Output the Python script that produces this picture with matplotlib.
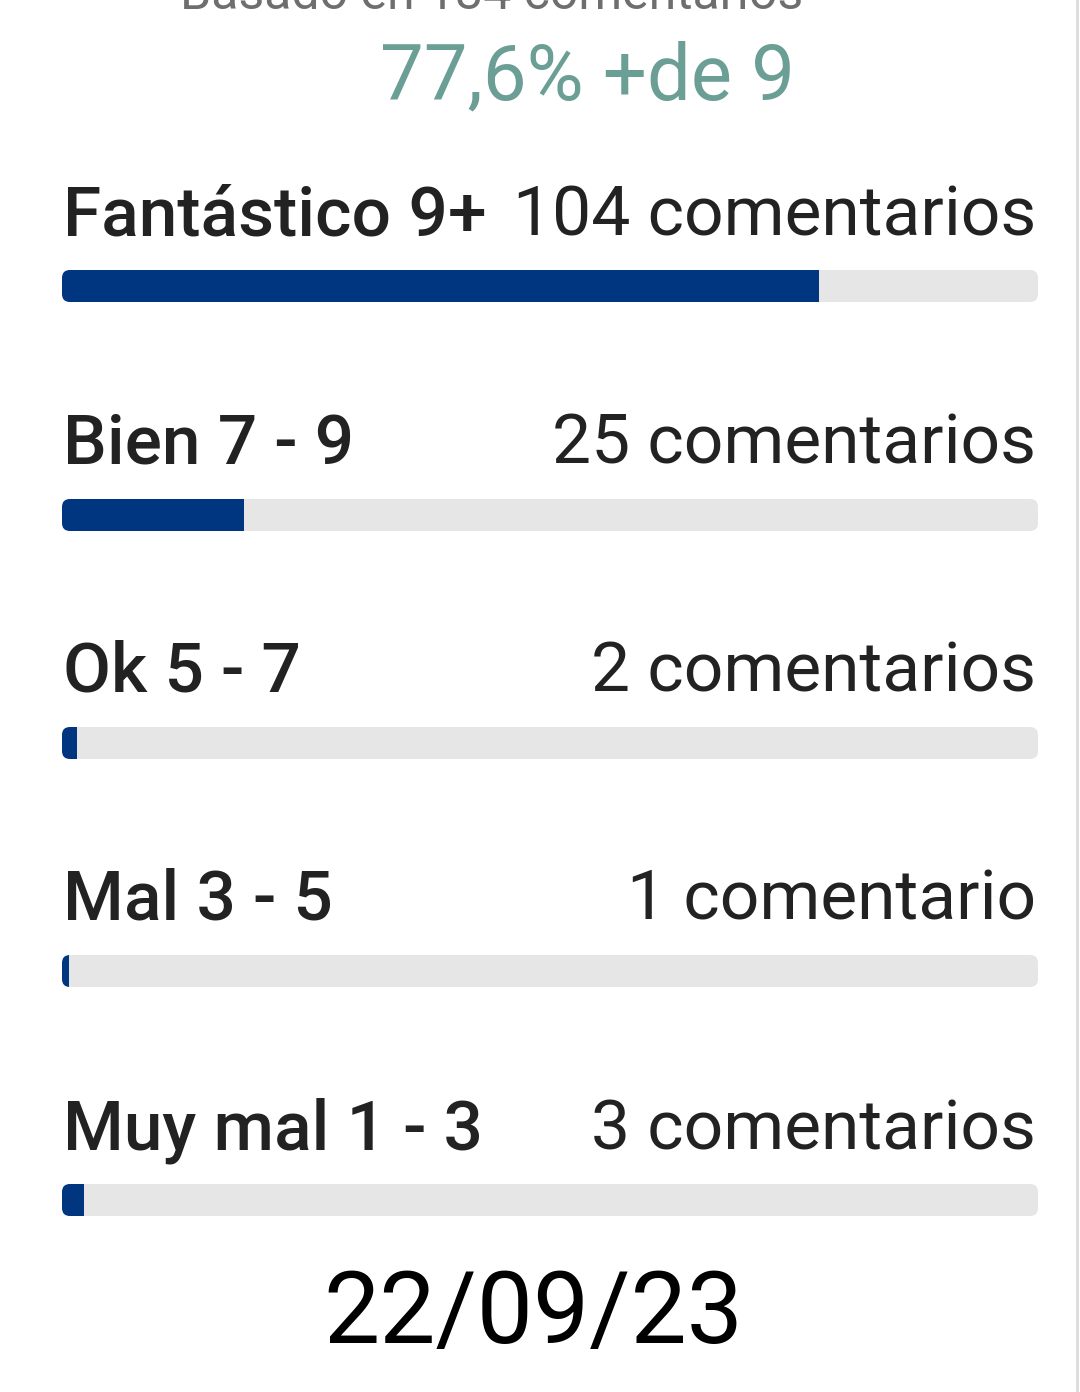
import matplotlib
matplotlib.use("Agg")
import matplotlib.pyplot as plt
from matplotlib.patches import FancyBboxPatch

W, H = 1080, 1392

# data
TOTAL = 134
LABELS = ["Fantástico 9+", "Bien 7 - 9", "Ok 5 - 7", "Mal 3 - 5", "Muy mal 1 - 3"]
COUNTS = [104, 25, 2, 1, 3]
DATE = "22/09/23"

BLUE = "#003580"
TRACK = "#e6e6e6"
INK = "#222222"

plt.rcParams['font.family'] = ['Roboto', 'DejaVu Sans']

fig = plt.figure(figsize=(W / 100, H / 100), dpi=100)
fig.patch.set_facecolor("white")

def fx(px):
    return px / W

def fy(py):
    return 1 - py / H

# header (top line is cut off in the screenshot)
fig.text(fx(492), fy(9), f"Basado en {TOTAL} comentarios", ha="center",
         va="baseline", fontsize=36, color="#6e6e6e")
pct = COUNTS[0] / TOTAL * 100
fig.text(fx(587), fy(100), f"{pct:.1f}".replace(".", ",") + "% +de 9",
         ha="center", va="baseline", fontsize=56, color="#6b9f96")

# bars, one axes in pixel rows, x in comment counts
ax = fig.add_axes([fx(62), 0, fx(976), 1])
ax.set_xlim(0, TOTAL)
ax.set_ylim(H, 0)
ax.axis("off")

row_y = [286, 515, 743, 971, 1200]
bar_h = 32
x_per_px = TOTAL / 976
rad_px = 8

for i, (lab, n) in enumerate(zip(LABELS, COUNTS)):
    yc = row_y[i]
    track = FancyBboxPatch((0, yc - bar_h / 2), TOTAL, bar_h,
                           boxstyle=f"round,pad=0,rounding_size={rad_px * x_per_px}",
                           mutation_aspect=1 / x_per_px,
                           facecolor=TRACK, edgecolor="none")
    ax.add_patch(track)
    bars = ax.barh([yc], [n], height=bar_h, left=0, color=BLUE)
    for b in bars:
        b.set_clip_path(track)

    base = yc - 51
    fig.text(fx(63), fy(base), lab, ha="left", va="baseline",
             fontsize=50, fontweight="medium", color=INK)
    word = "comentario" if n == 1 else "comentarios"
    fig.text(fx(1036), fy(base), f"{n} {word}", ha="right", va="baseline",
             fontsize=50, color=INK)

fig.text(fx(533), fy(1343), DATE, ha="center", va="baseline",
         fontsize=72, color="black")

# screen edge on the right
fig.add_artist(plt.Line2D([fx(1077), fx(1077)], [0, 1], color="#dcdcdc", lw=2))

fig.savefig("out.png", dpi=100, facecolor="white")
